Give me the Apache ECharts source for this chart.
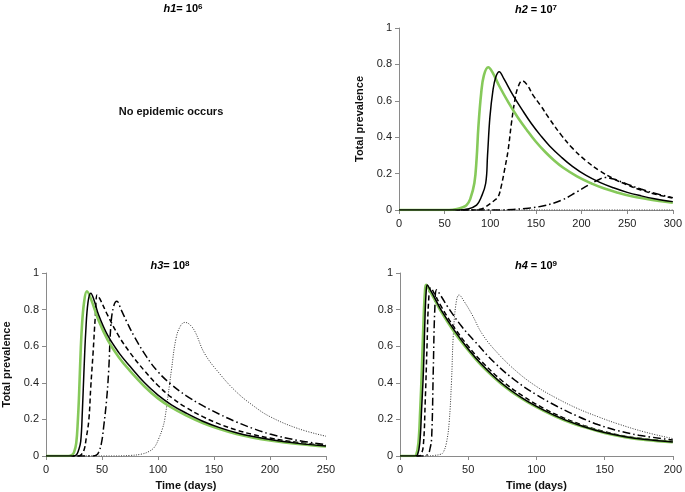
<!DOCTYPE html>
<html><head><meta charset="utf-8">
<script src="https://cdn.jsdelivr.net/npm/echarts@6/dist/echarts.min.js"></script>
<style>html,body{margin:0;padding:0;background:#fff}#c{width:685px;height:492px}</style>
</head><body><div id="c"></div>
<script>
// Panel titles / labels
const panelTitles = [
  {h: 'h1', eq: '= 10', exp: '6'},
  {h: 'h2', eq: ' = 10', exp: '7'},
  {h: 'h3', eq: '= 10', exp: '8'},
  {h: 'h4', eq: ' = 10', exp: '9'}
];
const noEpidemicText = 'No epidemic occurs';
const yAxisName = 'Total prevalence';
const xAxisName = 'Time (days)';

// h2 = 10^7 panel (time in days, total prevalence)
const h2Green = [[0,0],[55,0],[63.5,0.005],[70,0.015],[74,0.027],[78,0.06],[82.6,0.148],[85,0.28],[87,0.458],[90,0.64],[93,0.74],[97.8,0.784],[102,0.76],[110,0.68],[120,0.59],[130,0.51],[140,0.44],[150,0.375],[160,0.32],[170,0.272],[180,0.232],[195,0.185],[210,0.148],[225,0.118],[240,0.095],[255,0.076],[270,0.062],[285,0.05],[300,0.04]];
const h2Black = [[0,0],[65,0],[75,0.005],[85,0.027],[90,0.07],[95,0.147],[97,0.3],[99.6,0.51],[103,0.66],[106,0.73],[109.8,0.76],[115,0.72],[125,0.63],[135,0.55],[145,0.475],[155,0.41],[165,0.352],[178,0.29],[190,0.24],[205,0.19],[220,0.152],[235,0.122],[250,0.097],[265,0.078],[280,0.062],[300,0.046]];
const h2Dashed = [[0,0],[80,0],[90,0.005],[94,0.015],[100,0.035],[105,0.055],[108.7,0.073],[112,0.13],[116,0.23],[119.6,0.33],[123,0.47],[126.8,0.6],[130,0.67],[135,0.71],[140,0.69],[147,0.63],[155,0.575],[165,0.5],[178,0.41],[190,0.34],[205,0.27],[220,0.215],[235,0.172],[250,0.138],[265,0.11],[280,0.088],[300,0.065]];
const h2DashDot = [[0,0],[110,0],[125,0.003],[142,0.01],[160,0.025],[178.6,0.055],[195,0.1],[207.6,0.137],[218,0.165],[226,0.178],[235,0.17],[250,0.142],[265,0.115],[280,0.092],[300,0.068]];
const h2Dotted = [[0,0],[300,0]];

// h3 = 10^8 panel
const h3Green = [[0,0],[20,0],[23,0.005],[25,0.02],[27,0.07],[28.5,0.2],[29.5,0.33],[30.5,0.5],[32,0.7],[34,0.84],[36.5,0.9],[40,0.86],[47,0.74],[55,0.635],[65,0.54],[75,0.465],[88,0.38],[100,0.315],[112,0.265],[125,0.222],[140,0.18],[155,0.147],[170,0.12],[185,0.1],[200,0.085],[225,0.066],[250,0.052]];
const h3Black = [[0,0],[24,0],[27,0.005],[29,0.03],[31,0.08],[32.5,0.25],[33.8,0.45],[35.5,0.68],[37.5,0.84],[40,0.89],[43,0.85],[47,0.77],[55,0.66],[65,0.565],[75,0.49],[88,0.4],[100,0.333],[112,0.28],[125,0.235],[140,0.19],[155,0.155],[170,0.127],[185,0.106],[200,0.09],[225,0.069],[250,0.054]];
const h3Dashed = [[0,0],[28,0],[31,0.005],[33.8,0.03],[36,0.1],[38.3,0.2],[40,0.38],[42,0.56],[44,0.76],[45.7,0.88],[48,0.86],[55,0.77],[65,0.655],[75,0.565],[88,0.465],[100,0.385],[112,0.32],[125,0.265],[140,0.215],[155,0.174],[170,0.142],[185,0.117],[200,0.098],[225,0.074],[250,0.057]];
const h3DashDot = [[0,0],[42,0],[45,0.005],[47,0.02],[49.5,0.07],[51.5,0.16],[54,0.3],[56,0.47],[58,0.72],[60.5,0.82],[63.3,0.845],[67,0.8],[72,0.735],[79.5,0.645],[90,0.54],[100,0.46],[112,0.39],[125,0.33],[140,0.275],[155,0.228],[170,0.186],[185,0.15],[200,0.12],[225,0.085],[250,0.062]];
const h3Dotted = [[0,0],[60,0],[75,0.003],[85,0.01],[92,0.025],[97,0.05],[101,0.1],[104,0.15],[106,0.2],[109,0.33],[112,0.47],[116,0.64],[120,0.71],[124,0.73],[128,0.72],[133,0.68],[141.6,0.56],[155,0.45],[170,0.35],[185,0.275],[200,0.215],[225,0.15],[250,0.108]];

// h4 = 10^9 panel
const h4Green = [[0,0],[10,0],[11.8,0.005],[13.5,0.07],[14.8,0.25],[16,0.47],[17.3,0.75],[18.3,0.9],[19.1,0.936],[22,0.9],[25,0.86],[30,0.79],[40,0.675],[50,0.578],[60,0.493],[75,0.39],[90,0.31],[105,0.248],[120,0.197],[135,0.158],[150,0.126],[165,0.103],[180,0.088],[200,0.075]];
const h4Black = [[0,0],[11,0],[12.8,0.005],[14.5,0.07],[15.8,0.25],[17.2,0.47],[18.3,0.75],[19.2,0.9],[20,0.935],[22,0.91],[25,0.87],[30,0.8],[40,0.685],[50,0.585],[60,0.5],[75,0.395],[90,0.315],[105,0.252],[120,0.2],[135,0.16],[150,0.128],[165,0.105],[180,0.09],[200,0.077]];
const h4Dashed = [[0,0],[13,0],[15,0.005],[17,0.05],[18.5,0.3],[19.8,0.6],[21,0.85],[22.5,0.92],[25,0.89],[30,0.82],[40,0.7],[50,0.6],[60,0.515],[75,0.41],[90,0.328],[105,0.262],[120,0.208],[135,0.166],[150,0.133],[165,0.108],[180,0.093],[200,0.079]];
const h4DashDot = [[0,0],[17,0],[20.5,0.01],[22,0.04],[23.2,0.1],[24.4,0.47],[25.5,0.8],[26.9,0.908],[30,0.875],[35,0.815],[45,0.71],[55,0.625],[70,0.505],[85,0.41],[100,0.335],[115,0.272],[130,0.218],[145,0.172],[160,0.138],[175,0.114],[200,0.087]];
const h4Dotted = [[0,0],[20,0],[25,0.003],[30,0.01],[31.7,0.02],[34,0.07],[36,0.18],[37.8,0.415],[39,0.65],[41,0.83],[43.3,0.88],[47,0.845],[53,0.77],[60,0.67],[70,0.575],[85,0.465],[100,0.38],[115,0.315],[130,0.26],[145,0.215],[160,0.175],[180,0.13],[200,0.095]];

const FONT = 'Liberation Sans, Arial, Helvetica, sans-serif';
const GREEN = '#86c95a';

function titleText(t){ return '{i|' + t.h + '}{n|' + t.eq + '}{s|' + t.exp + '}'; }
const rich = {
  i: {fontFamily: FONT, fontWeight: 'bold', fontStyle: 'italic', fontSize: 11, color: '#111'},
  n: {fontFamily: FONT, fontWeight: 'bold', fontSize: 11, color: '#111'},
  s: {fontFamily: FONT, fontWeight: 'bold', fontSize: 8, color: '#111', verticalAlign: 'top', padding: [0,0,5,0]}
};
const titlePos = [[183, 9], [536, 10], [170, 266], [536, 266]];

const grids = [
  {left: 399, top: 28, width: 276, height: 182},
  {left: 43, top: 273, width: 283, height: 183},
  {left: 400, top: 273, width: 275, height: 183}
];
const xMax = [300, 250, 200];

const axisLineStyle = {lineStyle: {color: '#8a8a8a', width: 1}};
const labelStyle = {fontFamily: FONT, fontSize: 11, color: '#222'};
const nameStyle = {fontFamily: FONT, fontSize: 11, fontWeight: 'bold', color: '#111'};

const xAxes = grids.map((g, i) => ({
  type: 'value', gridIndex: i, min: 0, max: xMax[i], interval: 50,
  axisLine: Object.assign({show: true}, axisLineStyle),
  axisTick: {show: true, length: 4, lineStyle: {color: '#8a8a8a'}},
  splitLine: {show: false},
  axisLabel: Object.assign({margin: 8}, labelStyle),
  name: i === 0 ? '' : xAxisName, nameLocation: 'middle', nameGap: 24, nameTextStyle: nameStyle
}));
const yAxes = grids.map((g, i) => ({
  type: 'value', gridIndex: i, min: 0, max: 1, interval: 0.2,
  axisLine: Object.assign({show: true}, axisLineStyle),
  axisTick: {show: true, length: 4, lineStyle: {color: '#8a8a8a'}},
  splitLine: {show: false},
  axisLabel: Object.assign({margin: 7, formatter: v => String(Math.round(v*10)/10)}, labelStyle),
  name: i === 2 ? '' : yAxisName, nameLocation: 'middle', nameGap: 34, nameTextStyle: nameStyle
}));

function mk(data, idx, style, z){
  return {type: 'line', xAxisIndex: idx, yAxisIndex: idx, data: data, showSymbol: false, symbol: 'none',
    smooth: 0.4, lineStyle: style, z: z, silent: true};
}
const sGreen = {color: GREEN, width: 2.6};
const sBlack = {color: '#000', width: 1.5};
const sDashed = {color: '#000', width: 1.5, type: [5, 3]};
const sDashDot = {color: '#000', width: 1.5, type: [8, 3, 1.5, 3]};
const sDotted = {color: '#333', width: 1, type: [1, 1.5]};

const panels = [
  [h2Green, h2Black, h2Dashed, h2DashDot, h2Dotted],
  [h3Green, h3Black, h3Dashed, h3DashDot, h3Dotted],
  [h4Green, h4Black, h4Dashed, h4DashDot, h4Dotted]
];
const series = [];
panels.forEach((p, i) => {
  series.push(mk(p[4], i, sDotted, 2));
  series.push(mk(p[3], i, sDashDot, 3));
  series.push(mk(p[2], i, sDashed, 4));
  series.push(mk(p[0], i, sGreen, 5));
  series.push(mk(p[1], i, sBlack, 6));
});

const graphic = panelTitles.map((t, i) => ({
  type: 'text', x: titlePos[i][0], y: titlePos[i][1],
  style: {text: titleText(t), rich: rich, align: 'center', verticalAlign: 'middle'}
}));
graphic.push({type: 'text', x: 171, y: 112, style: {text: noEpidemicText, fontFamily: FONT, fontSize: 11, fontWeight: 'bold', fill: '#111', align: 'center', verticalAlign: 'middle'}});

const chart = echarts.init(document.getElementById('c'), null, {renderer: 'canvas'});
chart.setOption({
  animation: false,
  backgroundColor: '#fff',
  grid: grids,
  xAxis: xAxes,
  yAxis: yAxes,
  series: series,
  graphic: graphic
});
</script>
</body></html>
